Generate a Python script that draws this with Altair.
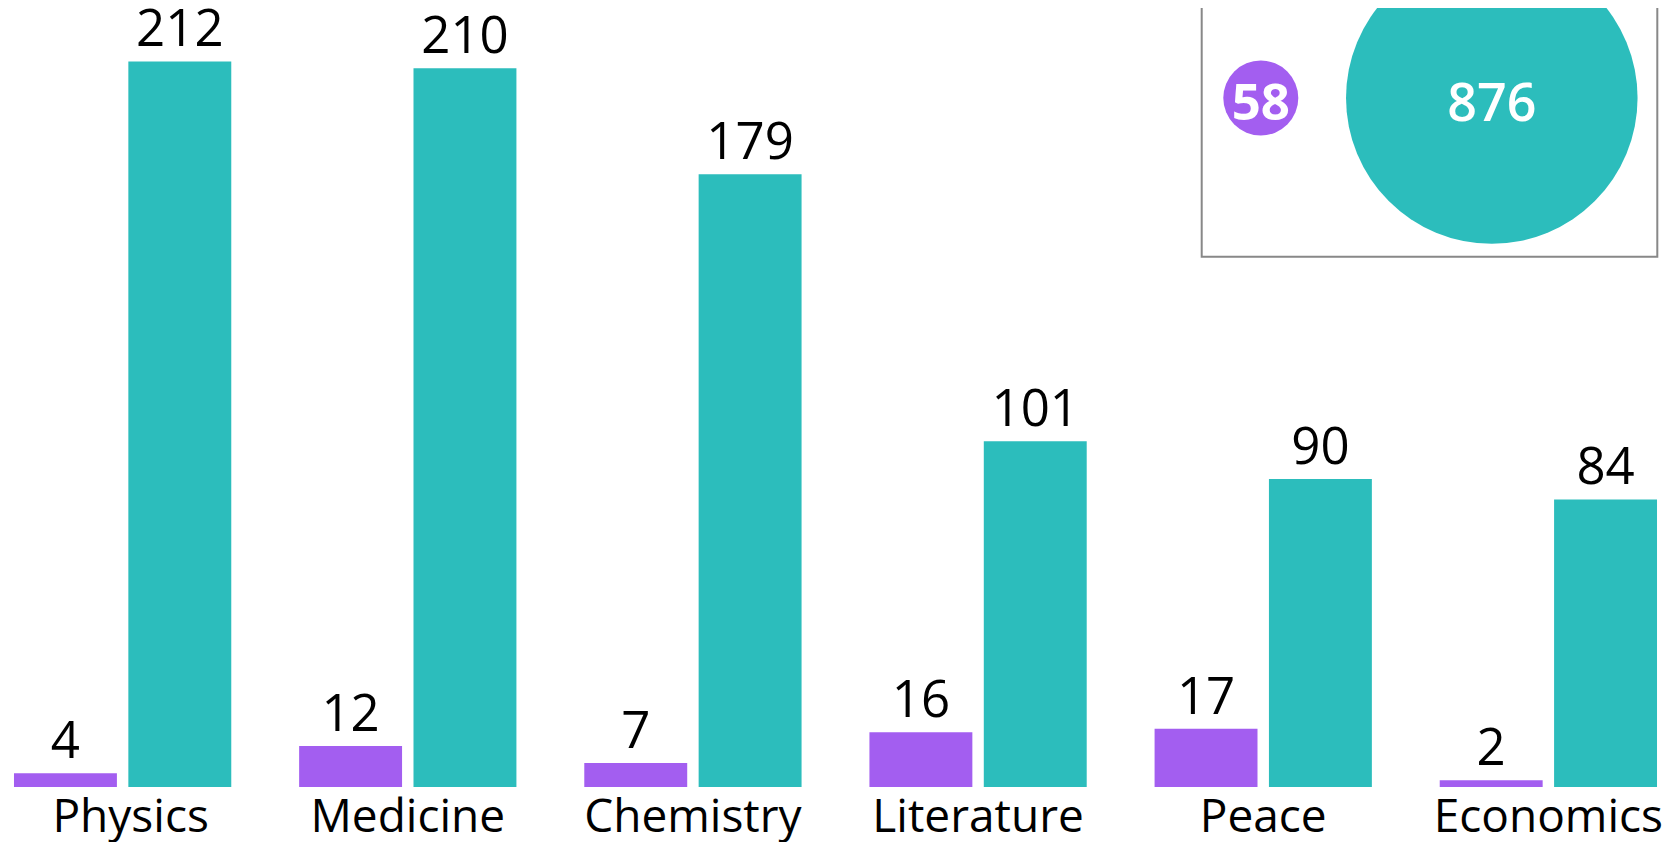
import altair as alt
import pandas as pd

categories = ["Physics", "Medicine", "Chemistry", "Literature", "Peace", "Economics"]
women = [4, 12, 7, 16, 17, 2]
men = [212, 210, 179, 101, 90, 84]
groups = ["Women", "Men"]
totals = [58, 876]

PURPLE = "#A35EF0"
TEAL = "#2CBDBC"
FONT = "Open Sans"

rows = []
for c, w, m in zip(categories, women, men):
    rows.append({"category": c, "gender": "Women", "count": w})
    rows.append({"category": c, "gender": "Men", "count": m})
df = pd.DataFrame(rows)
tot = pd.DataFrame({"gender": groups, "total": totals})

color = alt.Color("gender:N", scale=alt.Scale(domain=groups, range=[PURPLE, TEAL]), legend=None)

x = alt.X(
    "category:N",
    sort=categories,
    scale=alt.Scale(paddingInner=0.238, paddingOuter=0.021),
    axis=alt.Axis(
        title=None, ticks=False, tickSize=0, domain=False, labelAngle=0,
        labelFont=FONT, labelFontSize=46, labelColor="#000000", labelLimit=0,
        labelPadding=44, labelBaseline="alphabetic",
        labelOffset=alt.condition("datum.value == 'Physics'", alt.value(8), alt.value(0)),
    ),
)
xo = alt.XOffset("gender:N", sort=groups, scale=alt.Scale(paddingInner=0.1, paddingOuter=0))
y = alt.Y("count:Q", scale=alt.Scale(domain=[0, 227.6], nice=False, zero=True), axis=None)

base = alt.Chart(df).encode(x=x, xOffset=xo, y=y)
bars = base.mark_bar().encode(color=color)
labels = base.mark_text(baseline="alphabetic", dy=-15, font=FONT, fontSize=51, color="#000000").encode(
    text="count:Q"
)

box = alt.Chart(tot.head(1)).mark_rect(fill="white", stroke="#888888", strokeWidth=2).encode(
    x=alt.value(1193.7), x2=alt.value(1649.3), y=alt.value(-20), y2=alt.value(248.7)
)

cx = alt.X("gender:N", sort=groups, scale=alt.Scale(type="point", domain=groups, range=[1252.8, 1483.8], padding=0), axis=None)
circles = alt.Chart(tot).mark_circle(opacity=1).encode(
    x=cx,
    y=alt.value(90),
    size=alt.Size("total:Q", scale=alt.Scale(domain=[0, 876], range=[0, 85000]), legend=None),
    color=color,
)
text_w = alt.Chart(tot).transform_filter("datum.gender == 'Women'").mark_text(
    font=FONT, fontSize=51, fontWeight="bold", color="white", baseline="middle", dy=7
).encode(x=cx, y=alt.value(90), text="total:Q")
text_m = alt.Chart(tot).transform_filter("datum.gender == 'Men'").mark_text(
    font=FONT, fontSize=52, fontWeight=600, color="white", baseline="middle", dy=7
).encode(x=cx, y=alt.value(90), text="total:Q")

chart = (
    alt.layer(bars, labels, box, circles, text_w, text_m)
    .resolve_scale(x="independent")
    .properties(
        width=1655, height=779,
        autosize=alt.AutoSizeParams(type="none"),
        padding={"left": 0, "right": 0, "top": 0, "bottom": 55},
        background="white",
    )
    .configure_view(stroke=None)
)

chart.save("out.html", embed_options={"renderer": "svg", "actions": False})
